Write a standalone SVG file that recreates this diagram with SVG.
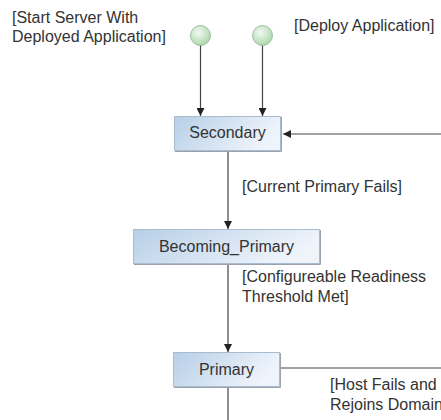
<svg xmlns="http://www.w3.org/2000/svg" width="441" height="420" viewBox="0 0 441 420">
<style>
text{font-family:"Liberation Sans",Arial,sans-serif;font-size:16px;fill:#333}
.lbl{text-anchor:middle}
.box{fill:url(#bg);stroke:#a9bccf;stroke-width:1}
.shadow{fill:none;stroke:#9aa3ad;stroke-width:1}
.edge{stroke:#444;stroke-width:1.2;fill:none}
.dot{fill:url(#gg);stroke:#8fb08f;stroke-width:0.8}
</style>
<defs>
<linearGradient id="bg" x1="0" y1="0" x2="1" y2="0.3">
<stop offset="0" stop-color="#b7cfe7"/>
<stop offset="1" stop-color="#eff4fb"/>
</linearGradient>
<radialGradient id="gg" cx="0.4" cy="0.35" r="0.7">
<stop offset="0" stop-color="#f2faf2"/>
<stop offset="1" stop-color="#a6d6a6"/>
</radialGradient>
<marker id="ah" viewBox="0 0 10 10" refX="10" refY="5" markerWidth="8" markerHeight="8" markerUnits="userSpaceOnUse" orient="auto">
<path d="M0,0 L10,5 L0,10 z" fill="#222"/>
</marker>
</defs>
<text x="12" y="23">[Start Server With</text>
<text x="12" y="42">Deployed Application]</text>
<text x="294" y="31">[Deploy Application]</text>
<g id="connectors">
<line class="edge" x1="200.5" y1="45" x2="200.5" y2="116" marker-end="url(#ah)"/>
<line class="edge" x1="262.5" y1="45" x2="262.5" y2="116" marker-end="url(#ah)"/>
<line class="edge" x1="441" y1="134" x2="283" y2="134" marker-end="url(#ah)"/>
<line class="edge" x1="228" y1="151" x2="228" y2="229" marker-end="url(#ah)"/>
<line class="edge" x1="228" y1="264" x2="228" y2="352" marker-end="url(#ah)"/>
<line class="edge" x1="280" y1="368" x2="441" y2="368"/>
<line class="edge" x1="228" y1="387" x2="228" y2="420"/>
<text x="242" y="192">[Current Primary Fails]</text>
<text x="242" y="282">[Configureable Readiness</text>
<text x="242" y="302">Threshold Met]</text>
<text x="330" y="390">[Host Fails and</text>
<text x="330" y="410">Rejoins Domain]</text>
</g>
<g id="start1"><circle class="dot" cx="200.5" cy="35.5" r="10"/></g>
<g id="start2"><circle class="dot" cx="262.5" cy="35.5" r="10"/></g>
<g id="secondary">
<polyline class="shadow" points="175,151.5 281.5,151.5 281.5,117"/>
<rect class="box" x="174.5" y="116.5" width="106" height="34"/>
<text class="lbl" x="227.5" y="138">Secondary</text>
</g>
<g id="becoming_primary">
<polyline class="shadow" points="134,264.5 320.5,264.5 320.5,230"/>
<rect class="box" x="133.5" y="229.5" width="186" height="34"/>
<text class="lbl" x="226.5" y="252">Becoming_Primary</text>
</g>
<g id="primary">
<polyline class="shadow" points="174,387.5 280.5,387.5 280.5,353"/>
<rect class="box" x="173.5" y="352.5" width="106" height="34"/>
<text class="lbl" x="226.5" y="375">Primary</text>
</g>
</svg>
